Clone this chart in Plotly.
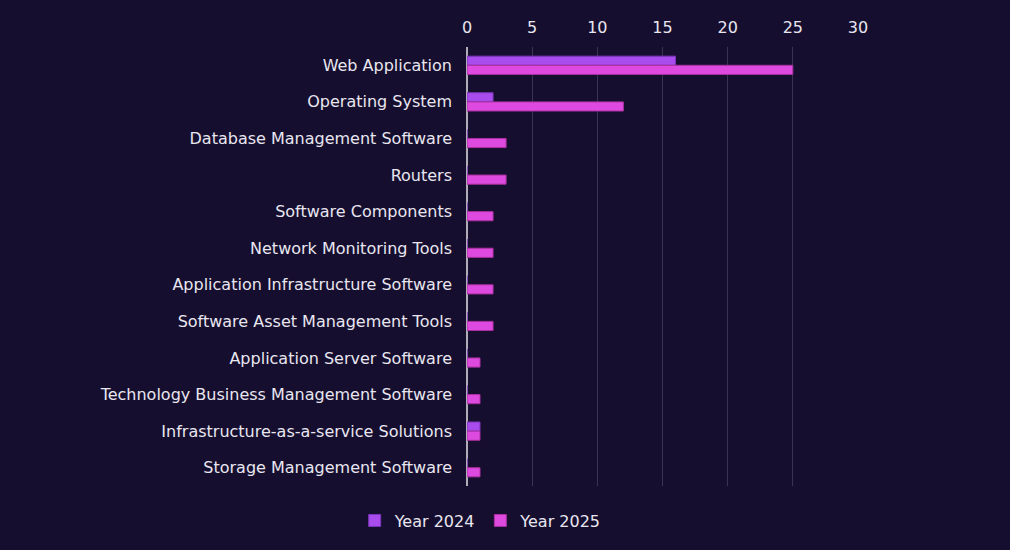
import plotly.graph_objects as go

categories = [
    "Web Application",
    "Operating System",
    "Database Management Software",
    "Routers",
    "Software Components",
    "Network Monitoring Tools",
    "Application Infrastructure Software",
    "Software Asset Management Tools",
    "Application Server Software",
    "Technology Business Management Software",
    "Infrastructure-as-a-service Solutions",
    "Storage Management Software",
]
year_2024 = [16, 2, 0, 0, 0, 0, 0, 0, 0, 0, 1, 0]
year_2025 = [25, 12, 3, 3, 2, 2, 2, 2, 1, 1, 1, 1]
tick_vals = [0, 5, 10, 15, 20, 25, 30]

BG = "#160e2e"
TXT = "#e8e6f0"
FONT = "DejaVu Sans"

fig = go.Figure()
fig.add_trace(go.Bar(
    name="Year 2024", y=categories, x=year_2024, orientation="h",
    marker=dict(color="#a84cee", line=dict(color="#7a35b8", width=1)),
))
fig.add_trace(go.Bar(
    name="Year 2025", y=categories, x=year_2025, orientation="h",
    marker=dict(color="#de4ae0", line=dict(color="#a8309e", width=1)),
))

fig.update_layout(
    width=1010, height=550,
    paper_bgcolor=BG, plot_bgcolor=BG,
    margin=dict(l=467, r=152, t=47, b=62),
    barmode="group", bargap=0.5, bargroupgap=0,
    font=dict(family=FONT, color=TXT, size=16),
    showlegend=True,
    legend=dict(orientation="h", x=0.035, xanchor="center", y=-0.04, yanchor="top",
                font=dict(size=16, color=TXT), itemwidth=30),
    xaxis=dict(side="top", range=[0, 30], tickvals=tick_vals, showgrid=True,
               gridcolor="#3a3352", gridwidth=1, zeroline=True, zerolinecolor="#b0adb8",
               zerolinewidth=2, showline=False, ticks="", ticklabelstandoff=10,
               tickfont=dict(size=16, color=TXT)),
    yaxis=dict(autorange="reversed", showgrid=False, ticks="", ticklabelstandoff=14,
               tickfont=dict(size=16, color=TXT)),
)

fig.write_html(
    "out.html",
    config={"displayModeBar": False},
    post_script="document.body.style.margin='0';document.body.style.background='#160e2e';",
)
